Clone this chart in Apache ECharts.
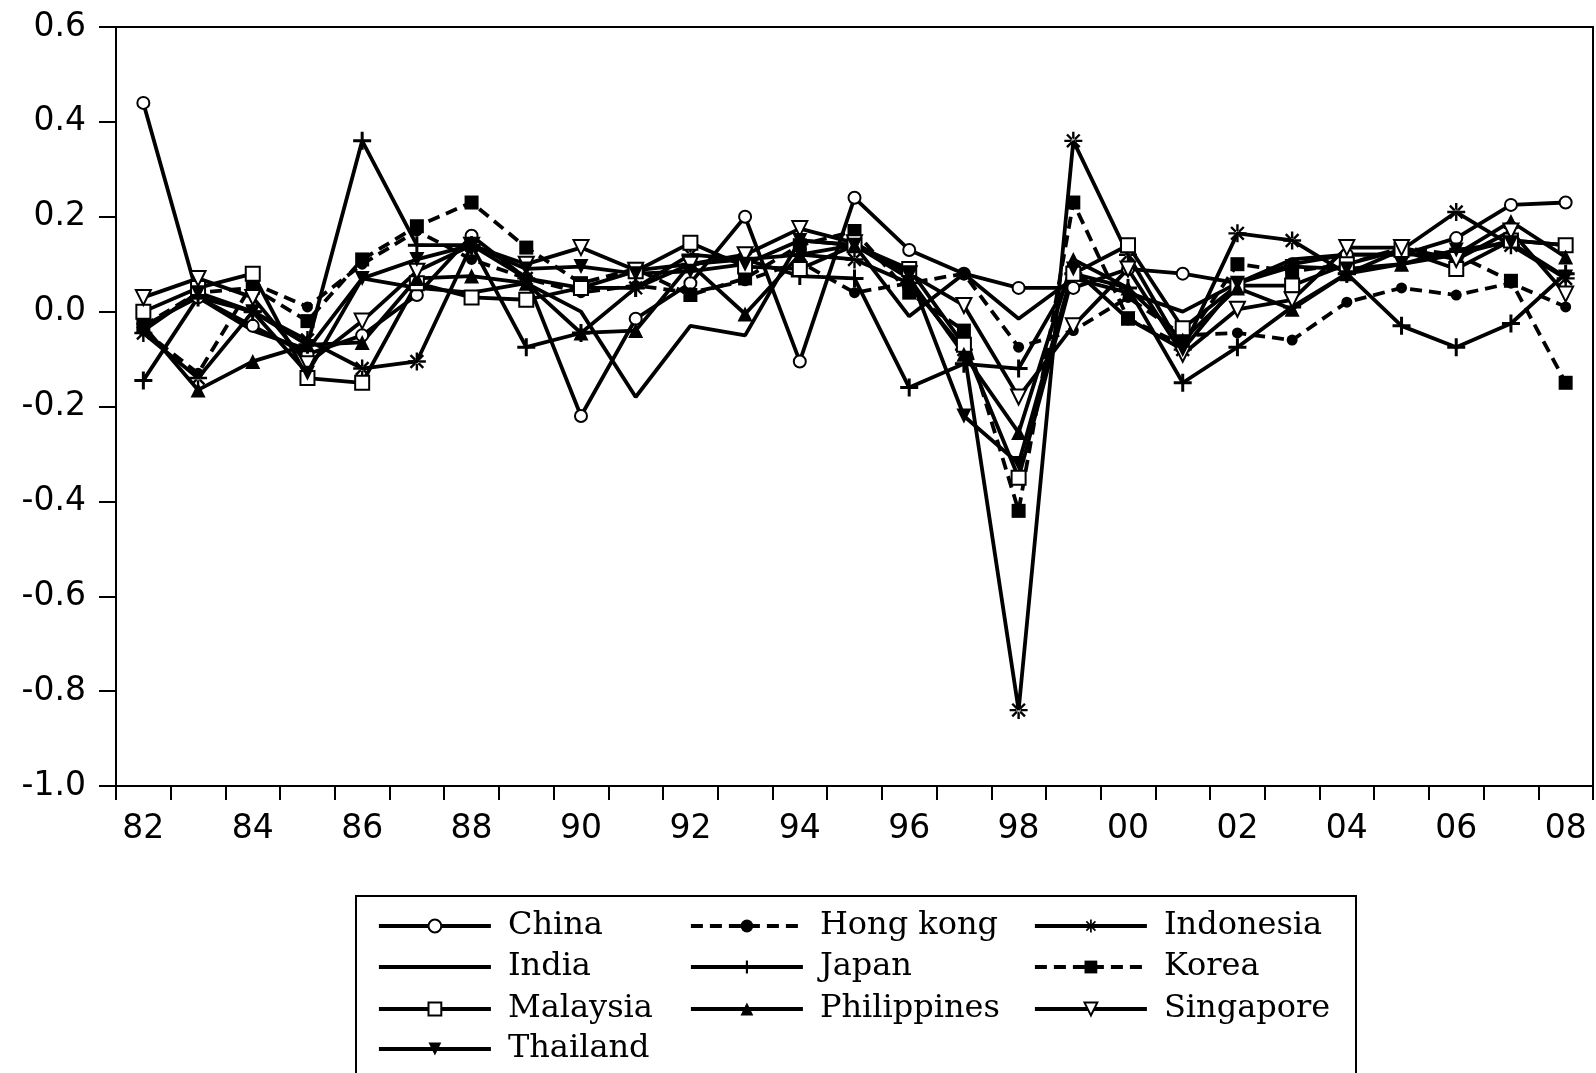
<!DOCTYPE html>
<html>
<head>
<meta charset="utf-8">
<script src="https://cdn.jsdelivr.net/npm/echarts@6/dist/echarts.min.js"></script>
<style>
html,body{margin:0;padding:0;background:#fff;}
#chart{width:1596px;height:1073px;}
</style>
</head>
<body>
<div id="chart"></div>
<script>
const years = ['1982','1983','1984','1985','1986','1987','1988','1989','1990','1991','1992','1993','1994','1995','1996','1997','1998','1999','2000','2001','2002','2003','2004','2005','2006','2007','2008'];
const yTicks = [-1.0, -0.8, -0.6, -0.4, -0.2, 0.0, 0.2, 0.4, 0.6];

const china       = [0.44, 0.03, -0.03, -0.09, -0.05, 0.035, 0.16, 0.07, -0.22, -0.015, 0.06, 0.20, -0.105, 0.24, 0.13, 0.08, 0.05, 0.05, 0.09, 0.08, 0.06, 0.10, 0.12, 0.12, 0.155, 0.225, 0.23];
const hongKong    = [-0.04, -0.13, 0.06, 0.01, 0.10, 0.17, 0.11, 0.07, 0.04, 0.055, 0.04, 0.065, 0.105, 0.04, 0.06, 0.08, -0.075, -0.04, 0.03, -0.05, -0.045, -0.06, 0.02, 0.05, 0.035, 0.06, 0.01];
const indonesia   = [-0.045, -0.14, 0.0, -0.06, -0.12, -0.105, 0.14, 0.07, 0.05, 0.05, 0.12, 0.11, 0.12, 0.11, 0.06, -0.08, -0.84, 0.36, 0.12, -0.08, 0.165, 0.15, 0.08, 0.13, 0.21, 0.14, 0.07];
const india       = [-0.03, 0.03, -0.04, -0.08, 0.07, 0.05, 0.04, 0.06, 0.0, -0.18, -0.03, -0.05, 0.15, 0.14, -0.01, 0.08, -0.015, 0.07, 0.04, 0.0, 0.06, 0.11, 0.12, 0.12, 0.12, 0.15, 0.14];
const japan       = [-0.145, 0.03, 0.0, -0.07, 0.36, 0.14, 0.14, -0.075, -0.045, 0.05, 0.10, 0.11, 0.075, 0.07, -0.16, -0.11, -0.12, 0.08, 0.05, -0.15, -0.075, 0.01, 0.08, -0.03, -0.075, -0.025, 0.08];
const korea       = [-0.03, 0.04, 0.05, -0.02, 0.11, 0.18, 0.23, 0.135, 0.06, 0.09, 0.035, 0.07, 0.14, 0.17, 0.04, -0.04, -0.42, 0.23, -0.015, -0.07, 0.10, 0.085, 0.10, 0.135, 0.12, 0.065, -0.15];
const malaysia    = [0.0, 0.05, 0.08, -0.14, -0.15, 0.06, 0.03, 0.025, 0.05, 0.085, 0.145, 0.095, 0.09, 0.14, 0.09, -0.07, -0.35, 0.08, 0.14, -0.035, 0.055, 0.055, 0.10, 0.13, 0.09, 0.15, 0.14];
const philippines = [-0.03, -0.165, -0.105, -0.07, -0.065, 0.07, 0.075, 0.06, -0.045, -0.04, 0.10, -0.005, 0.12, 0.14, 0.07, -0.09, -0.255, 0.11, 0.05, -0.06, 0.05, 0.005, 0.08, 0.10, 0.12, 0.19, 0.115];
const singapore   = [0.03, 0.07, 0.03, -0.11, -0.02, 0.085, 0.14, 0.10, 0.135, 0.087, 0.10, 0.12, 0.175, 0.145, 0.08, 0.013, -0.18, -0.03, 0.09, -0.09, 0.005, 0.025, 0.135, 0.135, 0.11, 0.17, 0.037];
const thailand    = [-0.04, 0.04, 0.0, -0.13, 0.07, 0.11, 0.14, 0.09, 0.095, 0.08, 0.085, 0.10, 0.15, 0.14, 0.08, -0.22, -0.32, 0.09, -0.015, -0.08, 0.06, 0.095, 0.09, 0.10, 0.13, 0.145, 0.073];

const PLUS = 'path://M-1,-6 L1,-6 L1,-1 L6,-1 L6,1 L1,1 L1,6 L-1,6 L-1,1 L-6,1 L-6,-1 L-1,-1 Z';
const STAR = 'path://M-0.8,-6 L0.8,-6 L0.8,6 L-0.8,6 Z M-6,-0.8 L6,-0.8 L6,0.8 L-6,0.8 Z M3.677,4.809 L4.809,3.677 L-3.677,-4.809 L-4.809,-3.677 Z M4.809,-3.677 L3.677,-4.809 L-4.809,3.677 L-3.677,4.809 Z';

const solid = 'solid';
const dashed = [12, 7];
const NONE = 'rgba(0,0,0,0)';
const seriesDefs = [
  {name:'China',       data:china,       symbol:'circle',   size:12, fill:'#fff', dash:solid},
  {name:'Hong kong',   data:hongKong,    symbol:'circle',   size:11, fill:'#000', dash:dashed},
  {name:'Indonesia',   data:indonesia,   symbol:STAR,       size:18, fill:'#000', dash:solid},
  {name:'India',       data:india,       symbol:'none',     size:0,  fill:NONE,   dash:solid},
  {name:'Japan',       data:japan,       symbol:PLUS,       size:18, fill:'#000', dash:solid},
  {name:'Korea',       data:korea,       symbol:'rect',     size:14, fill:'#000', dash:dashed},
  {name:'Malaysia',    data:malaysia,    symbol:'rect',     size:14, fill:'#fff', dash:solid},
  {name:'Philippines', data:philippines, symbol:'triangle', size:15, fill:'#000', dash:solid},
  {name:'Singapore',   data:singapore,   symbol:'triangle', size:15, fill:'#fff', dash:solid, rotate:180},
  {name:'Thailand',    data:thailand,    symbol:'triangle', size:15, fill:'#000', dash:solid, rotate:180}
];

const series = seriesDefs.map(d => ({
  name: d.name,
  type: 'line',
  data: d.data,
  symbol: d.symbol,
  symbolSize: d.size,
  symbolRotate: d.rotate || 0,
  showSymbol: d.symbol !== 'none',
  lineStyle: {color:'#000', width:3.8, type:d.dash},
  itemStyle: {color:d.fill, borderColor:'#000', borderWidth: d.fill === '#fff' ? 2 : 0},
  emphasis: {disabled:true},
  z: 2
}));

// legend layout: [column line start x, row centre y]
const colX = [377, 689, 1033];
const rowY = [926, 967, 1009, 1049];
const legendPos = [[0,0],[1,0],[2,0],[0,1],[1,1],[2,1],[0,2],[1,2],[2,2],[0,3]];
const legends = seriesDefs.map((d, i) => ({
  data: [d.name],
  left: colX[legendPos[i][0]],
  top: rowY[legendPos[i][1]] - 17,
  orient: 'horizontal',
  padding: 0,
  itemWidth: 112,
  itemHeight: 16,
  selectedMode: false,
  lineStyle: {width: 3.8},
  textStyle: {color:'#000', fontFamily:'DejaVu Serif', fontSize:32, lineHeight:34, padding:[0,0,0,12]}
}));

const chart = echarts.init(document.getElementById('chart'));
chart.setOption({
  animation: false,
  backgroundColor: '#fff',
  grid: {left:116, top:27, right:3, bottom:287, show:true, borderColor:'#000', borderWidth:2, containLabel:false},
  xAxis: {
    type: 'category',
    data: years,
    boundaryGap: true,
    axisLine: {onZero:false, lineStyle:{color:'#000', width:2}},
    axisTick: {show:true, interval:0, alignWithLabel:false, length:14, lineStyle:{color:'#000', width:2}},
    axisLabel: {interval:1, margin:27, color:'#000', fontFamily:'DejaVu Sans', fontSize:33, formatter: v => v.slice(2)},
    splitLine: {show:false}
  },
  yAxis: {
    type: 'value',
    min: yTicks[0],
    max: yTicks[yTicks.length - 1],
    interval: 0.2,
    axisLine: {show:true, lineStyle:{color:'#000', width:2}},
    axisTick: {show:true, length:17, lineStyle:{color:'#000', width:2}},
    axisLabel: {margin:30, color:'#000', fontFamily:'DejaVu Sans', fontSize:33, formatter: v => v.toFixed(1)},
    splitLine: {show:false}
  },
  legend: legends,
  graphic: [{
    type:'rect', left:355, top:895, z:0,
    shape:{width:1000, height:200},
    style:{fill:'#fff', stroke:'#000', lineWidth:2}
  }],
  series: series
});
</script>
</body>
</html>
